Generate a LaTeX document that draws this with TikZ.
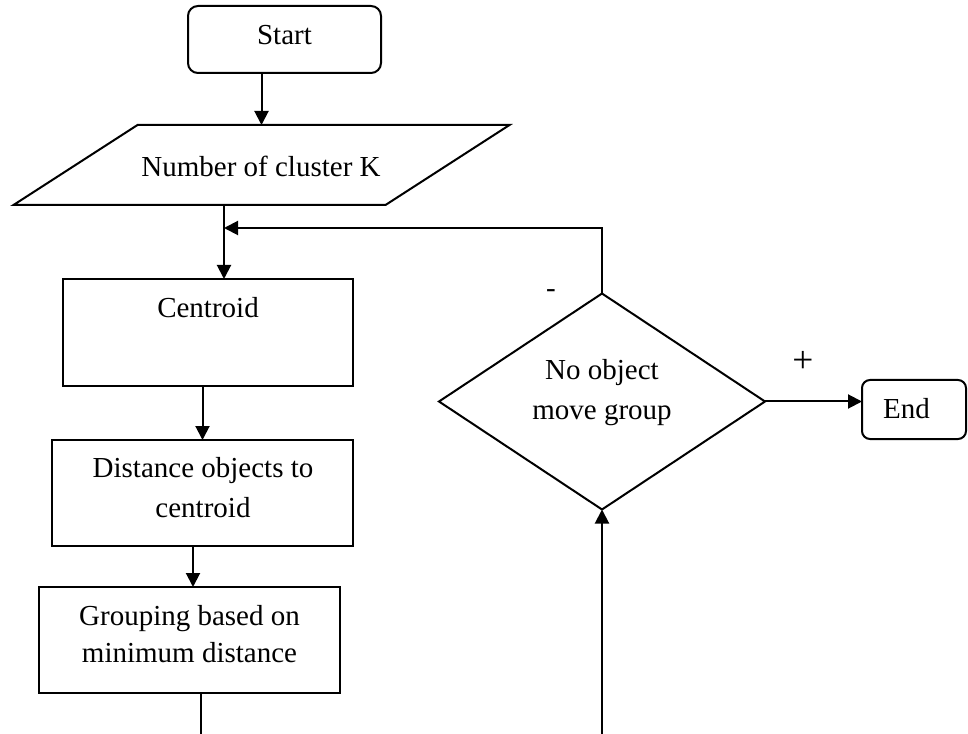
\documentclass[tikz,border=0pt]{standalone}
\usepackage{fontspec}
\setmainfont{Liberation Serif}
\usetikzlibrary{arrows.meta,shapes.geometric,calc}
\begin{document}
\begin{tikzpicture}[x=0.75pt,y=-0.75pt,line width=1.5pt,
  every node/.style={inner sep=0pt,outer sep=0pt},
  txt/.style={font=\fontsize{21.75}{29}\selectfont,anchor=base},
  procbox/.style n args={2}{draw,rectangle,minimum width=#1,minimum height=#2},
  termbox/.style n args={3}{draw,rectangle,rounded corners=#3,minimum width=#1,minimum height=#2},
  arr/.style={-{Triangle[length=10.5pt,width=10.5pt]}}]
\useasboundingbox (0,0) rectangle (968,734);

% shapes
\node[termbox={144.75pt}{50.25pt}{7.5pt}] (start) at (284.5,39.5) {};
\node[minimum width=279pt,minimum height=60pt] (para) at (261.5,165) {};
\draw ($(para.north west)+(62,0)$) -- ($(para.north east)+(62,0)$)
   -- ($(para.south east)+(-62,0)$) -- ($(para.south west)+(-62,0)$) -- cycle;
\node[procbox={217.5pt}{80.25pt}] (cent) at (208,332.5) {};
\node[procbox={225.75pt}{79.5pt}] (dist) at (202.5,493) {};
\node[procbox={225.75pt}{79.5pt}] (grp) at (189.5,640) {};
\node[draw,diamond,minimum width=244.5pt,minimum height=162pt] (dec) at (602,401.5) {};
\node[termbox={78pt}{44.25pt}{6pt}] (end) at (914,409.5) {};

% texts
\node[txt] (tstart) at (284.5,45) {Start};
\node[txt] (tpara) at (261,177) {Number of cluster K};
\node[txt] (tcent) at (208,318) {Centroid};
\node[txt] (tdist1) at (203,477) {Distance objects to};
\node[txt] (tdist2) at (203,517) {centroid};
\node[txt] (tgrp1) at (189.5,625) {Grouping based on};
\node[txt] (tgrp2) at (189.5,662) {minimum distance};
\node[txt] (tdec1) at (602,380) {No object};
\node[txt] (tdec2) at (602,419) {move group};
\node[txt] (tend) at (906.5,418) {End};
\node[txt,anchor=center] (minus) at (551,294) {-};
\node[txt,anchor=center,font=\fontsize{28}{30}\selectfont] (plus) at (803,362) {+};

% connectors
\coordinate (j) at (224,228);
\coordinate (k) at (193,0);
\coordinate (gout) at (201,734);
\coordinate (din) at (602,734);
\draw[arr] (start.south -| para.north) -- (para.north);
\draw[arr] (para.south -| j) -- (cent.north -| j);
\draw[arr] (cent.south -| dist.north) -- (dist.north);
\draw[arr] (dist.south -| k) -- (grp.north -| k);
\draw (grp.south -| gout) -- (gout);
\draw[arr] (din) -- (dec.south);
\draw[arr] (dec.east) -- (dec.east -| end.west);
\draw[arr] (dec.north) -- (dec.north |- j) -- (j);
\end{tikzpicture}
\end{document}
